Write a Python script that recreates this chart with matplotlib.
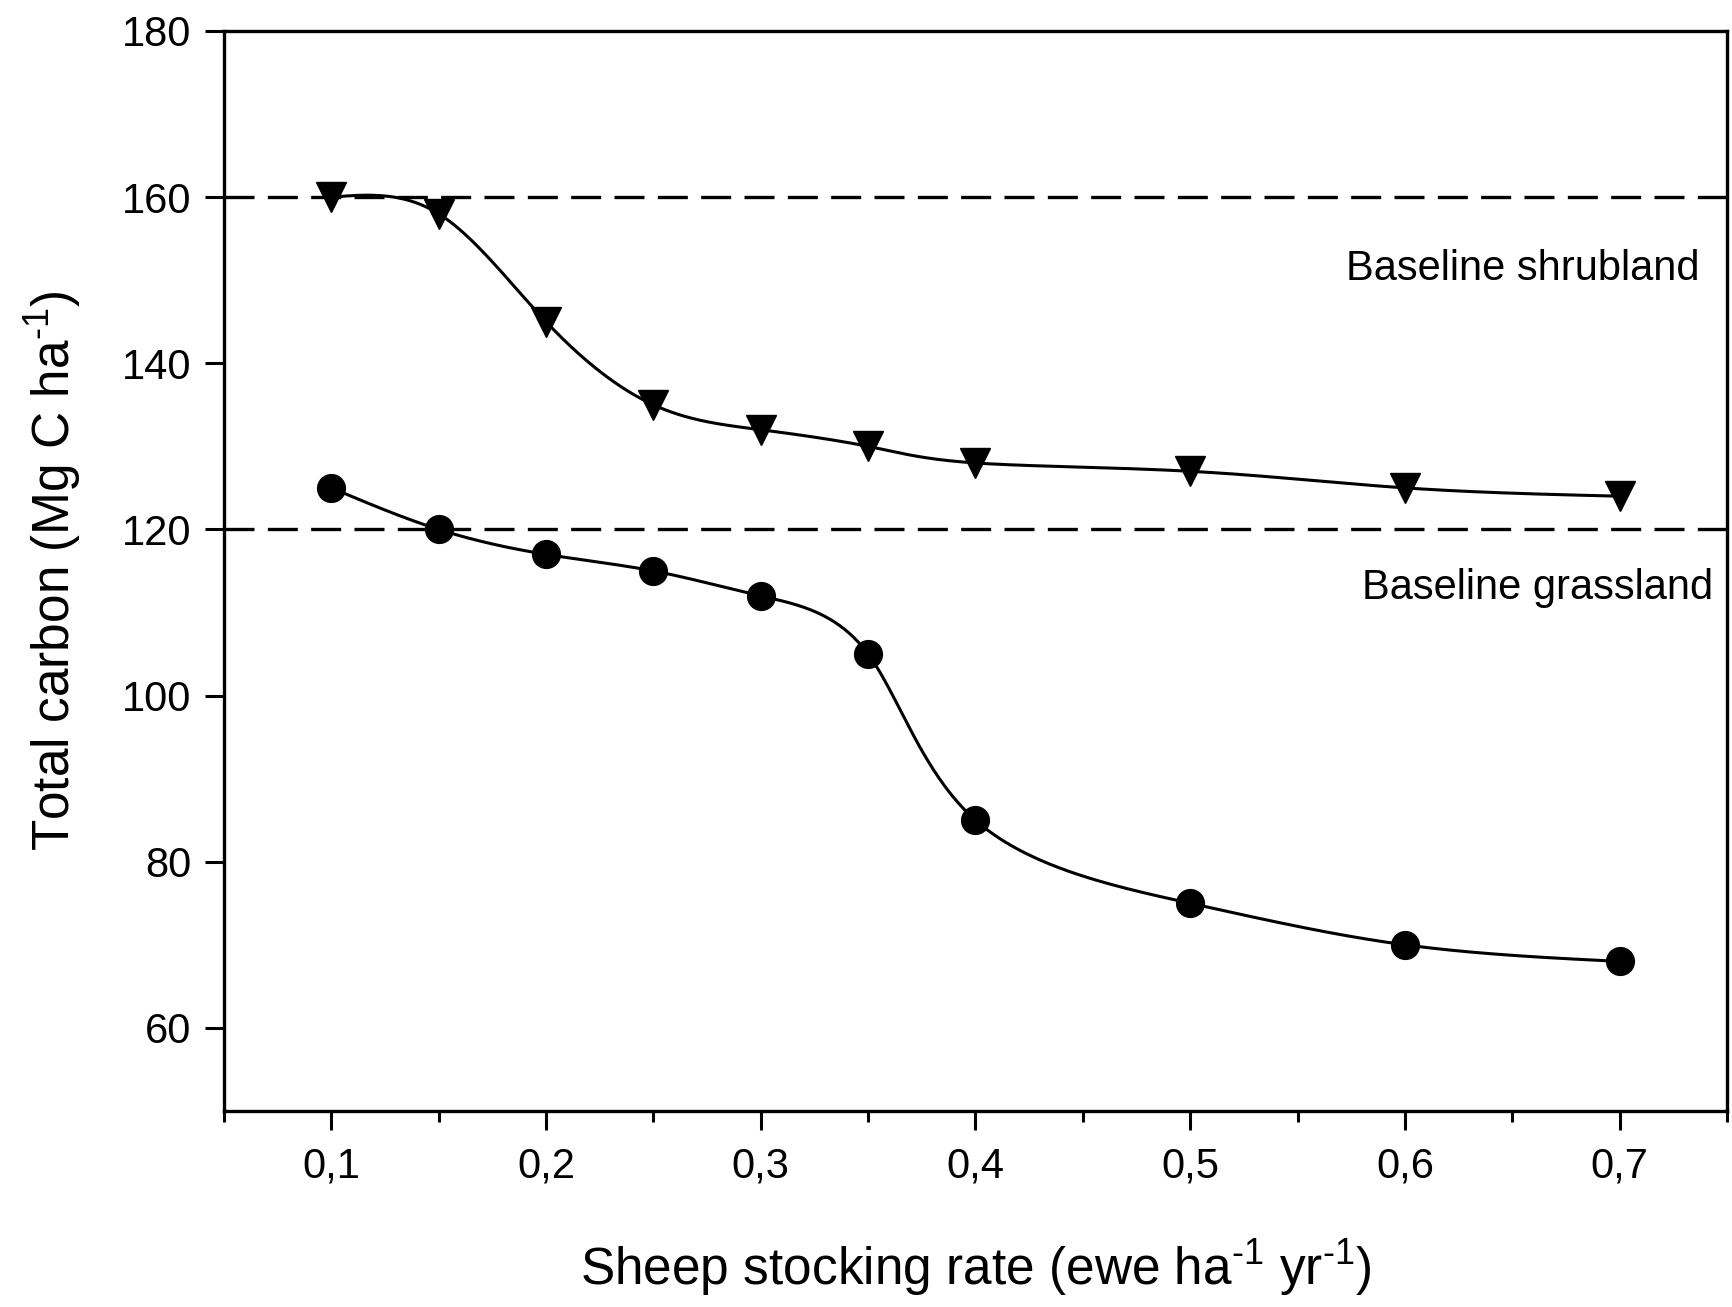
import numpy as np
import matplotlib
matplotlib.use("Agg")
import matplotlib.pyplot as plt
from matplotlib.ticker import MultipleLocator, FuncFormatter

plt.rcParams['font.family'] = ['Liberation Sans', 'DejaVu Sans']
plt.rcParams['mathtext.fontset'] = 'custom'
plt.rcParams['mathtext.rm'] = 'Liberation Sans'

# Sheep stocking rate (ewe ha-1 yr-1)
stocking_rate = [0.1, 0.15, 0.2, 0.25, 0.3, 0.35, 0.4, 0.5, 0.6, 0.7]
# Total carbon (Mg C ha-1)
shrubland_carbon = [160, 158, 145, 135, 132, 130, 128, 127, 125, 124]
grassland_carbon = [125, 120, 117, 115, 112, 105, 85, 75, 70, 68]
baseline_shrubland = 160
baseline_grassland = 120
y_ticks = [60, 80, 100, 120, 140, 160, 180]
x_ticks = [0.1, 0.2, 0.3, 0.4, 0.5, 0.6, 0.7]


def natural_spline(t, y, tt):
    """Natural cubic spline through (t, y), evaluated at tt."""
    t = np.asarray(t, float)
    y = np.asarray(y, float)
    k = len(t)
    h = np.diff(t)
    A = np.zeros((k, k))
    b = np.zeros(k)
    A[0, 0] = A[-1, -1] = 1.0
    for i in range(1, k - 1):
        A[i, i - 1] = h[i - 1]
        A[i, i] = 2 * (h[i - 1] + h[i])
        A[i, i + 1] = h[i]
        b[i] = 6 * ((y[i + 1] - y[i]) / h[i] - (y[i] - y[i - 1]) / h[i - 1])
    m = np.linalg.solve(A, b)
    idx = np.clip(np.searchsorted(t, tt) - 1, 0, k - 2)
    t0, t1 = t[idx], t[idx + 1]
    hh = t1 - t0
    a0 = t1 - tt
    a1 = tt - t0
    return (m[idx] * a0 ** 3 / (6 * hh) + m[idx + 1] * a1 ** 3 / (6 * hh)
            + (y[idx] / hh - m[idx] * hh / 6) * a0
            + (y[idx + 1] / hh - m[idx + 1] * hh / 6) * a1)


def smooth_curve(x, y, n=600):
    """Parametric spline: x and y each splined against the point index."""
    t = np.arange(len(x), dtype=float)
    tt = np.linspace(0, len(x) - 1, n)
    return natural_spline(t, x, tt), natural_spline(t, y, tt)


fig = plt.figure(figsize=(17.32, 13.07), dpi=100)
ax = fig.add_axes([0.1293, 0.150, 0.8678, 0.8263])

dash = (0, (9, 4))
ax.axhline(baseline_shrubland, color='black', lw=2.4, linestyle=dash, zorder=1)
ax.axhline(baseline_grassland, color='black', lw=2.4, linestyle=dash, zorder=1)

for yvals, marker, ms in [(shrubland_carbon, 'v', 21), (grassland_carbon, 'o', 20)]:
    xs, ys = smooth_curve(stocking_rate, yvals)
    ax.plot(xs, ys, color='black', lw=2.2, zorder=2)
    ax.plot(stocking_rate, yvals, linestyle='none', marker=marker,
            markersize=ms, color='black', zorder=3)

ax.text(0.737, 151.4, 'Baseline shrubland', ha='right', va='center', fontsize=30)
ax.text(0.7435, 112.9, 'Baseline grassland', ha='right', va='center', fontsize=30)

ax.set_xlim(0.05, 0.75)
ax.set_ylim(50, 180)
ax.set_yticks(y_ticks)
ax.set_xticks(x_ticks)
ax.xaxis.set_minor_locator(MultipleLocator(0.05))
ax.xaxis.set_major_formatter(FuncFormatter(lambda v, p: f'{v:.1f}'.replace('.', ',')))

for s in ax.spines.values():
    s.set_linewidth(2.4)

ax.tick_params(axis='both', which='major', direction='out', length=13.5,
               width=2.2, labelsize=30)
ax.tick_params(axis='x', which='major', pad=12)
ax.tick_params(axis='y', which='major', pad=10)
ax.tick_params(axis='x', which='minor', direction='out', length=8, width=2.2)
ax.tick_params(axis='y', which='minor', left=False)

ax.set_xlabel(r'Sheep stocking rate (ewe ha$^{\text{-1}}$ yr$^{\text{-1}}$)', fontsize=37)
ax.set_ylabel(r'Total carbon (Mg C ha$^{\text{-1}}$)', fontsize=37)
ax.xaxis.label.set_va('center')
ax.yaxis.label.set_va('center')
ax.xaxis.set_label_coords(0.5, -0.1454)
ax.yaxis.set_label_coords(-0.1138, 0.5)

fig.savefig('out.png', dpi=100)
